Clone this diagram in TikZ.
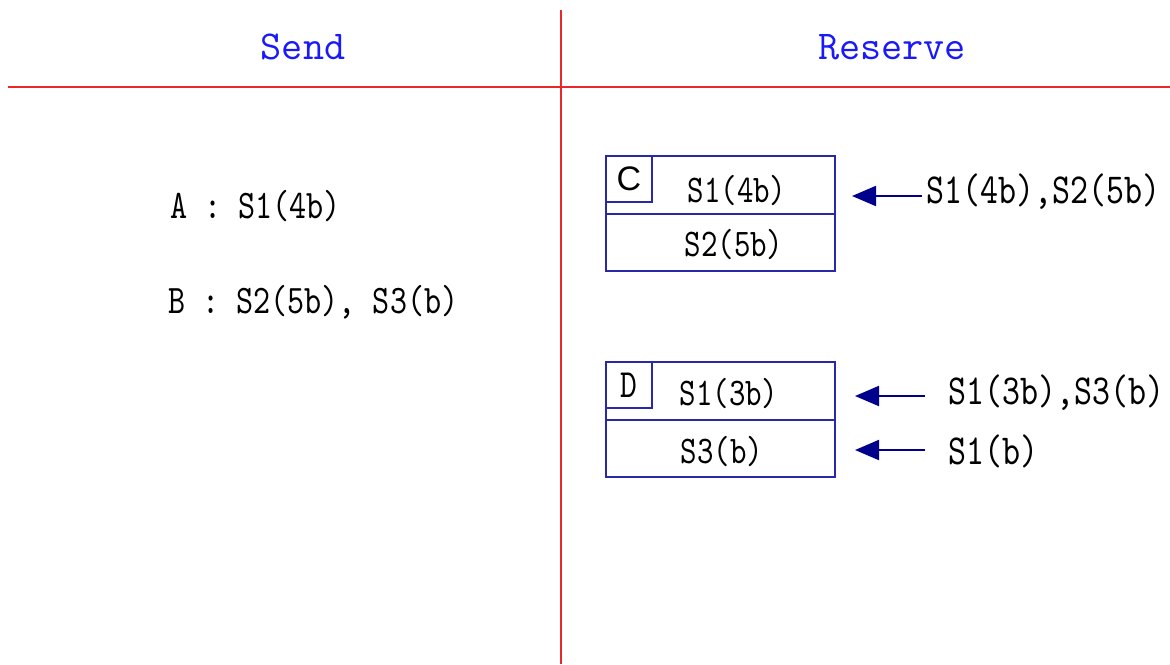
\documentclass[tikz,border=0pt]{standalone}
\usepackage{fontspec}
\setsansfont{Liberation Sans}
\newfontfamily\tallmono{lmmono10-regular}[Extension=.otf,FakeStretch=0.8]
\usetikzlibrary{arrows.meta,positioning}
\definecolor{lineRed}{RGB}{235,40,40}
\definecolor{headBlue}{RGB}{25,25,250}
\definecolor{boxNavy}{RGB}{40,40,170}
\definecolor{arrowNavy}{RGB}{0,0,140}

\begin{document}
\begin{tikzpicture}[x=0.5pt,y=-0.5pt,
  head/.style={text=headBlue,inner sep=0pt,font=\ttfamily\fontsize{20.5}{22}\selectfont},
  msg/.style={anchor=west,inner sep=0pt,font=\tallmono\fontsize{20.3}{22}\selectfont},
  inmsg/.style={msg,font=\tallmono\fontsize{21.4}{23}\selectfont},
  cell/.style={draw=boxNavy,line width=1.2pt,outer sep=0pt,inner sep=0pt,minimum width=114.5pt,minimum height=28.75pt},
  tag/.style={draw=boxNavy,line width=1.2pt,outer sep=0pt,inner sep=0pt,minimum size=23pt,anchor=north west,font=\tallmono\fontsize{20}{21}\selectfont},
  celltext/.style={inner sep=0pt,font=\tallmono\fontsize{19.6}{21}\selectfont},
  feed/.style={draw=arrowNavy,line width=1pt,-{Triangle[length=12pt,width=10pt]}}]
\useasboundingbox (0,0) rectangle (1170,664);

% table frame
\draw[lineRed,line width=1pt] (561,10) -- (561,664);
\draw[lineRed,line width=1pt] (8,87) -- (1170,87);
\node[head] (send) at (303,47) {Send};
\node[head] (reserve) at (892,47) {Reserve};

% left column
\node[msg] (msgA) at (170,206) {A : S1(4b)};
\node[msg] (msgB) at (168,302) {B : S2(5b), S3(b)};

% box C
\node[cell] (c1) at (720.5,185) {};
\node[cell,below=0pt of c1] (c2) {};
\node[tag] (tagC) at (c1.north west) {\sffamily\fontsize{17}{18}\selectfont C};
\node[celltext] (c1txt) at (737,191) {S1(4b)};
\node[celltext] (c2txt) at (734,244) {S2(5b)};

% box D
\node[cell] (d1) at (720.5,391) {};
\node[cell,below=0pt of d1] (d2) {};
\node[tag] (tagD) at (d1.north west) {D};
\node[celltext] (d1txt) at (729,393) {S1(3b)};
\node[celltext] (d2txt) at (722,451) {S3(b)};

% incoming requests
\node[inmsg] (inMsgC) at (926,192) {S1(4b),S2(5b)};
\node[inmsg] (inMsgD1) at (948,393) {S1(3b),S3(b)};
\node[inmsg] (inMsgD2) at (948,451) {S1(b)};
\coordinate (tipC) at (852,196);
\coordinate (tipD1) at (855,396);
\coordinate (tipD2) at (855,450);
\draw[feed,shorten <=2pt] (inMsgC.west |- tipC) -- (tipC);
\draw[feed,shorten <=11.5pt] (inMsgD1.west |- tipD1) -- (tipD1);
\draw[feed,shorten <=11.5pt] (inMsgD2.west |- tipD2) -- (tipD2);
\end{tikzpicture}
\end{document}
